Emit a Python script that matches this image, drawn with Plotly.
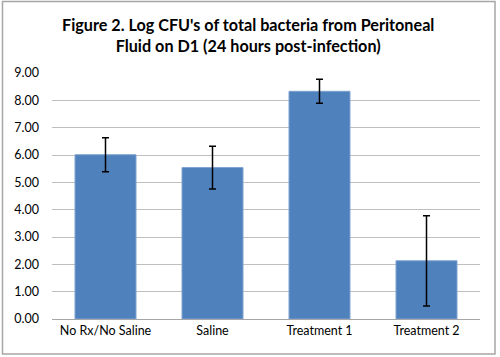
import plotly.graph_objects as go

categories = ["No Rx/No Saline", "Saline", "Treatment 1", "Treatment 2"]
log_cfu = [6.01, 5.54, 8.33, 2.13]
error = [0.62, 0.78, 0.44, 1.65]
y_ticks = [0, 1, 2, 3, 4, 5, 6, 7, 8, 9]

font_family = "Lato, Carlito, 'Open Sans', sans-serif"

L, R, T, B = 52, 20, 73, 38
PW, PH = 500 - L - R, 357 - T - B


def px_x(p):
    return (p - L) / PW


def px_y(p):
    return (357 - B - p) / PH


fig = go.Figure()
fig.add_trace(go.Bar(
    x=categories,
    y=log_cfu,
    marker=dict(color="#4F81BD", line=dict(color="#7FA3D0", width=1)),
    error_y=dict(type="data", array=error, visible=True, color="#000000",
                 thickness=1.5, width=3.5),
    showlegend=False,
))

fig.update_layout(
    width=500, height=357, autosize=False,
    margin=dict(l=L, r=R, t=T, b=B),
    paper_bgcolor="white", plot_bgcolor="white",
    bargap=0.43,
    font=dict(family=font_family, size=12, color="#000000"),
    xaxis=dict(showgrid=False, showline=True, linecolor="#A6A6A6", linewidth=1,
               ticks="", tickfont=dict(size=12.5)),
    yaxis=dict(range=[0, 9], tickvals=y_ticks, tickformat=".2f",
               showgrid=True, gridcolor="#BFBFBF", gridwidth=1,
               zeroline=False, showline=False, ticks="",
               ticklabelstandoff=12, tickfont=dict(size=12.5)),
    annotations=[dict(
        text="<b>Figure 2. Log CFU's of total bacteria from Peritoneal<br>Fluid on D1 (24 hours post-infection)</b>",
        xref="paper", yref="paper",
        x=px_x(248), y=px_y(13), xanchor="center", yanchor="top",
        showarrow=False, align="center",
        font=dict(family=font_family, size=16.2, color="#000000"),
    )],
    shapes=[dict(type="rect", xref="paper", yref="paper",
                 x0=px_x(2.5), x1=px_x(495), y0=px_y(354), y1=px_y(1.5),
                 line=dict(color="#A6A6A6", width=1.5), layer="above")],
)

fig.write_html("out.html", config={"displayModeBar": False},
               post_script="document.body.style.margin='0';document.body.style.overflow='hidden';")
